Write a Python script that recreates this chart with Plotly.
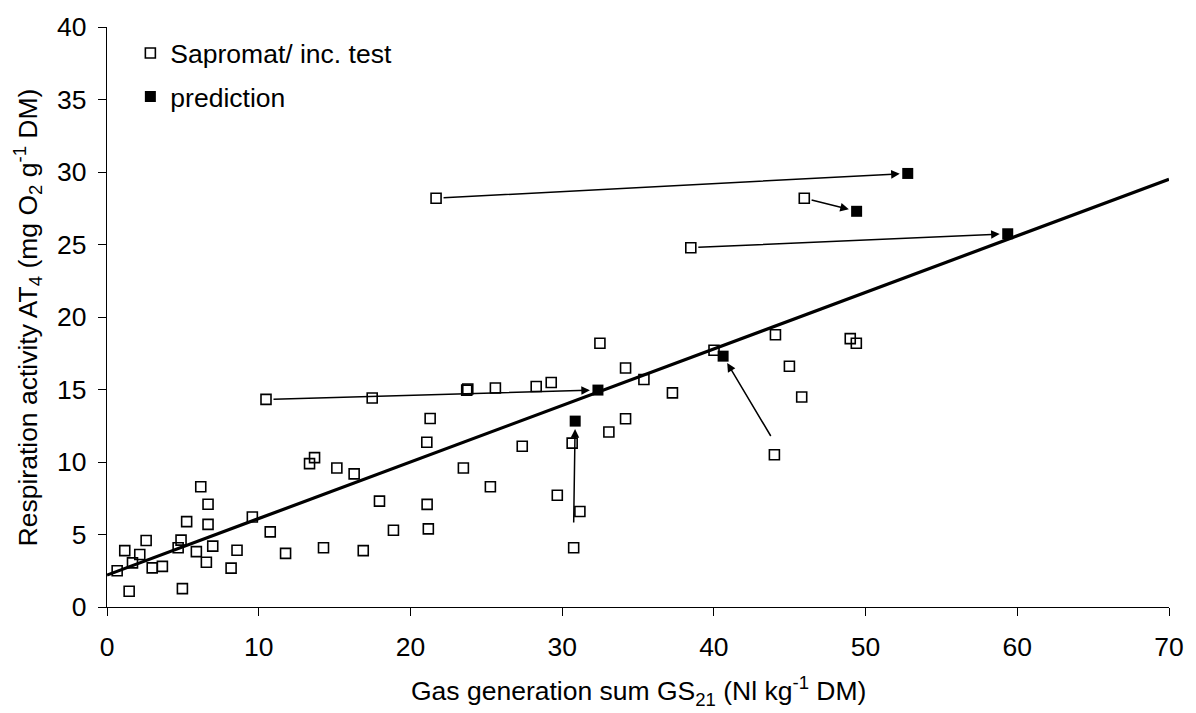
import plotly.graph_objects as go

# Sapromat / incubation test measurements
obs_x = [10.48, 17.48, 21.30, 21.08, 13.68, 13.35, 15.15, 16.29, 6.18, 6.66,
         17.96, 21.10, 5.25, 6.66, 9.58, 10.76, 18.88, 21.18, 2.58, 1.17,
         2.16, 1.68, 0.67, 2.98, 3.65, 4.88, 4.69, 5.89, 6.97, 6.55,
         8.57, 8.18, 11.77, 14.27, 16.89, 1.46, 4.97,
         32.49, 34.18, 35.39, 37.27, 23.71, 23.78, 25.60, 28.29, 29.28,
         34.18, 33.08, 27.37, 30.66, 23.49, 25.27, 29.68, 31.17, 30.76,
         40.01, 44.06, 44.98, 45.79, 48.99, 49.39, 43.99, 45.96, 38.48, 21.69]
obs_y = [14.32, 14.41, 13.00, 11.36, 10.30, 9.89, 9.59, 9.18, 8.29, 7.09,
         7.30, 7.08, 5.89, 5.70, 6.21, 5.18, 5.29, 5.39, 4.59, 3.89,
         3.62, 3.04, 2.50, 2.70, 2.80, 4.61, 4.09, 3.82, 4.20, 3.09,
         3.91, 2.68, 3.70, 4.09, 3.89, 1.09, 1.27,
         18.19, 16.48, 15.69, 14.77, 14.96, 15.03, 15.10, 15.21, 15.48,
         12.98, 12.07, 11.09, 11.30, 9.59, 8.29, 7.71, 6.59, 4.09,
         17.71, 18.78, 16.60, 14.48, 18.51, 18.19, 10.50, 28.19, 24.78, 28.19]

# predictions
pred_x = [52.78, 49.41, 59.37, 32.36, 30.86, 40.61]
pred_y = [29.90, 27.29, 25.74, 14.96, 12.82, 17.30]

# arrows: tail -> head (prediction)
arrow_tail_x = [21.69, 45.96, 38.48, 10.48, 30.76, 43.81]
arrow_tail_y = [28.19, 28.19, 24.78, 14.32, 5.73, 11.69]
arrow_head_x = pred_x
arrow_head_y = pred_y
tail_standoff = [6, 6, 6, 6, 0, 0]

# regression line
fit_x = [0, 70]
fit_y = [2.2, 29.5]

FONT = "Liberation Sans, Arial, sans-serif"
FS = 26.5

fig = go.Figure()
fig.add_trace(go.Scatter(x=fit_x, y=fit_y, mode="lines",
                         line=dict(color="black", width=3.2),
                         showlegend=False, hoverinfo="skip"))
fig.add_trace(go.Scatter(x=obs_x, y=obs_y, mode="markers",
                         name="Sapromat/ inc. test", legendgroup="a",
                         marker=dict(symbol="square-open", size=10,
                                     color="black", line=dict(width=1.6))))
fig.add_trace(go.Scatter(x=pred_x, y=pred_y, mode="markers",
                         name="prediction", legendgroup="b",
                         marker=dict(symbol="square", size=11, color="black",
                                     line=dict(width=0))))

annotations = []
for tx, ty, hx, hy, ss in zip(arrow_tail_x, arrow_tail_y, arrow_head_x,
                              arrow_head_y, tail_standoff):
    annotations.append(dict(x=hx, y=hy, ax=tx, ay=ty, xref="x", yref="y",
                            axref="x", ayref="y", text="", showarrow=True,
                            arrowhead=2, arrowsize=1.15, arrowwidth=1.5,
                            arrowcolor="black", standoff=8,
                            startstandoff=ss))

annotations.append(dict(
    text="Gas generation sum GS<sub>21</sub> (Nl kg<sup>-1</sup> DM)",
    xref="paper", yref="paper", x=0.5, y=-0.1455, xanchor="center",
    yanchor="middle", showarrow=False, font=dict(size=FS, color="black")))
annotations.append(dict(
    text="Respiration activity AT<sub>4</sub> (mg O<sub>2</sub> g<sup>-1</sup> DM)",
    xref="paper", yref="paper", x=-0.0748, y=0.4985, xanchor="center",
    yanchor="middle", textangle=-90, showarrow=False,
    font=dict(size=FS, color="black")))

fig.update_layout(
    width=1196, height=713, autosize=False,
    margin=dict(l=106.5, r=26.2, t=20.9, b=105.7),
    paper_bgcolor="white", plot_bgcolor="white",
    font=dict(family=FONT, size=FS, color="black"),
    showlegend=True,
    legend=dict(x=0.022, y=0.996, xanchor="left", yanchor="top",
                bgcolor="rgba(0,0,0,0)", font=dict(size=FS),
                tracegroupgap=6, traceorder="grouped",
                itemwidth=30),
    annotations=annotations,
)
fig.update_xaxes(range=[0, 70], tickvals=[0, 10, 20, 30, 40, 50, 60, 70],
                 showgrid=False, zeroline=False, showline=True,
                 linecolor="black", linewidth=1.2, ticks="outside",
                 ticklen=8, tickwidth=1.2, tickcolor="black",
                 ticklabelstandoff=8)
fig.update_yaxes(range=[0, 40], tickvals=[0, 5, 10, 15, 20, 25, 30, 35, 40],
                 showgrid=False, zeroline=False, showline=True,
                 linecolor="black", linewidth=1.2, ticks="outside",
                 ticklen=8, tickwidth=1.2, tickcolor="black",
                 ticklabelstandoff=6)

fig.write_html("out.html")
